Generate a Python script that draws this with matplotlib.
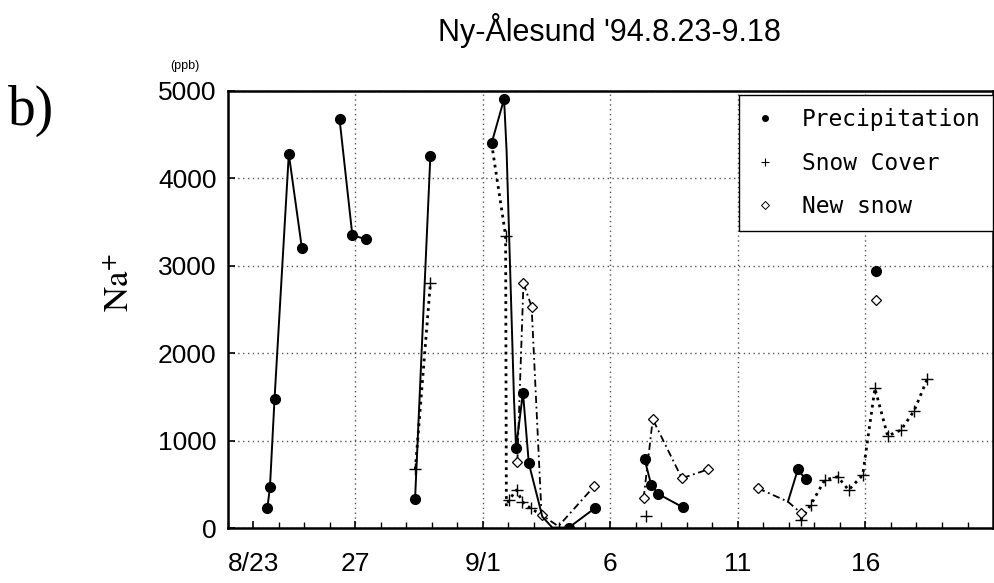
import numpy as np
import matplotlib
matplotlib.use("Agg")
import matplotlib.pyplot as plt
from matplotlib.lines import Line2D

nan = np.nan

# day number counted from Aug 1 (9/1 = day 32)
precip_days = [23.55, 23.65, 23.83, 24.39, 24.90, nan,
               26.38, 26.88, 27.40, nan,
               29.34, 29.94, nan,
               32.34, 32.83, 32.93, 33.22, 33.30, 33.57, 33.80, 34.33, 34.72, 35.37, 36.38, nan,
               38.34, 38.60, 38.88, 39.84, nan,
               43.96, 44.35, 44.65, nan,
               47.41]
precip_vals = [232, 466, 1476, 4279, 3207, nan,
               4676, 3352, 3303, nan,
               332, 4256, nan,
               4401, 4908, 4305, 1465, 915, 1550, 740, 130, 5, 5, 225, nan,
               786, 492, 389, 237, nan,
               301, 672, 557, nan,
               2944]
precip_mark = [1, 1, 1, 1, 1, 0,
               1, 1, 1, 0,
               1, 1, 0,
               1, 1, 0, 0, 1, 1, 1, 0, 0, 1, 1, 0,
               1, 1, 1, 1, 0,
               0, 1, 1, 0,
               1]

cover_days = [29.35, 29.94, nan,
              32.34, 32.89, 32.92, 33.02, 33.32, 33.55, 33.87, 34.30, nan,
              38.40, nan,
              44.46, 44.85, 45.40, 45.91, 46.34, 46.89, 47.37, 47.87, 48.39, 48.91, 49.42]
cover_vals = [672, 2800, nan,
              4401, 3345, 245, 320, 435, 300, 225, 150, nan,
              140, nan,
              90, 263, 549, 587, 435, 606, 1598, 1053, 1121, 1342, 1705]
cover_mark = [1, 1, 0,
              0, 1, 0, 1, 1, 1, 1, 0, 0,
              1, 0,
              1, 1, 1, 1, 1, 1, 1, 1, 1, 1, 1]

new_days = [33.35, 33.59, 33.91, 34.30, 34.96, 36.37, nan,
            38.30, 38.66, 39.80, 40.84, nan,
            42.79, 43.96, 44.46, nan,
            47.41]
new_vals = [760, 2800, 2532, 150, 20, 480, nan,
            340, 1244, 569, 672, nan,
            454, 301, 175, nan,
            2609]
new_mark = [1, 1, 1, 1, 0, 1, 0,
            1, 1, 1, 1, 0,
            1, 0, 1, 0,
            1]

tick_days = [23, 27, 32, 37, 42, 47]
tick_labels = ["8/23", "27", "9/1", "6", "11", "16"]

fig = plt.figure(figsize=(9.95, 5.83), dpi=100)
ax = fig.add_axes([0.229, 0.0943, 0.769, 0.7497])

ax.plot(cover_days, cover_vals, color="black", lw=2.0, ls=(0, (1, 1.6)),
        marker="+", ms=8, mew=1.0, markevery=[bool(m) for m in cover_mark])
ax.plot(new_days, new_vals, color="black", lw=1.3, ls=(0, (4, 2, 1, 2)),
        marker="D", ms=5, mfc="white", mec="black", mew=0.9,
        markevery=[bool(m) for m in new_mark])
ax.plot(precip_days, precip_vals, color="black", lw=1.4, ls="-",
        marker="o", ms=7, markevery=[bool(m) for m in precip_mark])

ax.set_xlim(22, 52)
ax.set_ylim(0, 5000)
ax.set_xticks(tick_days)
ax.set_xticklabels(tick_labels)
ax.set_xticks(np.arange(22, 52), minor=True)
ax.set_yticks([0, 1000, 2000, 3000, 4000, 5000])
ax.tick_params(axis="both", which="major", direction="in", length=5, width=1.2,
               labelsize=19)
ax.tick_params(axis="x", which="major", pad=17)
ax.tick_params(axis="y", which="major", pad=8)
ax.tick_params(axis="x", which="minor", direction="in", length=4, width=1.0)
for lab in ax.get_xticklabels() + ax.get_yticklabels():
    lab.set_family("Liberation Sans")

ax.grid(True, which="major", color="#555555", lw=1.0, ls=(0, (1, 2.5)))
ax.xaxis.get_gridlines()[0].set_visible(False)
for s in ax.spines.values():
    s.set_linewidth(1.8)

handles = [
    Line2D([], [], color="black", marker="o", ms=4, ls="none"),
    Line2D([], [], color="black", marker="+", ms=6, mew=0.8, ls="none"),
    Line2D([], [], color="black", marker="D", ms=4, mfc="white", mew=0.7, ls="none"),
]
leg = ax.legend(handles, ["Precipitation", "Snow Cover", "New snow"],
                loc="upper right", bbox_to_anchor=(1.0, 0.99), fancybox=False,
                framealpha=1, edgecolor="black", handlelength=1.2,
                handletextpad=1.0, labelspacing=0.9, borderpad=0.55,
                borderaxespad=0.0,
                prop={"family": "DejaVu Sans Mono", "size": 16.5})
leg.get_frame().set_linewidth(1.0)

fig.text(0.613, 0.948, "Ny-Ålesund '94.8.23-9.18", ha="center", va="center",
         fontsize=22, family="Liberation Sans")
fig.text(0.186, 0.887, "(ppb)", ha="center", va="center", fontsize=9,
         family="Liberation Sans")
plt.rcParams["mathtext.fontset"] = "stix"
fig.text(0.12, 0.515, r"$\mathrm{Na}^{+}$", rotation=90, ha="center",
         va="center", fontsize=25)
fig.text(0.008, 0.81, "b)", ha="left", va="center", fontsize=40,
         family="Liberation Serif")

fig.savefig("out.png", dpi=100)
